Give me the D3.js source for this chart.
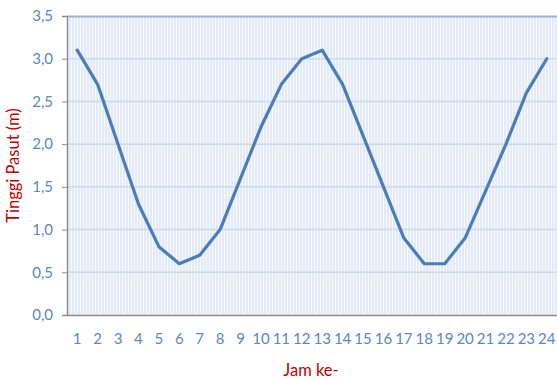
<!DOCTYPE html>
<html>
<head>
<meta charset="utf-8">
<script src="https://cdn.jsdelivr.net/npm/d3@7"></script>
<style>
  html, body { margin: 0; padding: 0; background: #fff; }
  svg { display: block; }
  text { font-family: Lato, "Open Sans", sans-serif; }
</style>
</head>
<body>
<div id="chart"></div>
<script>
// Hourly tide height (m)
const hours = d3.range(1, 25).map(String);
const tideHeight = [3.1, 2.7, 2.0, 1.3, 0.8, 0.6, 0.7, 1.0, 1.6, 2.2, 2.7, 3.0,
                    3.1, 2.7, 2.1, 1.5, 0.9, 0.6, 0.6, 0.9, 1.45, 2.0, 2.6, 3.0];
const yTicks = [0, 0.5, 1.0, 1.5, 2.0, 2.5, 3.0, 3.5];

const W = 557, H = 380;
const margin = { top: 16, right: 0, bottom: 65, left: 67 };
const iw = W - margin.left - margin.right;
const ih = H - margin.top - margin.bottom;

const svg = d3.select("#chart").append("svg")
  .attr("width", W).attr("height", H);

// striped plot-area fill
const defs = svg.append("defs");
const pat = defs.append("pattern")
  .attr("id", "stripes").attr("patternUnits", "userSpaceOnUse")
  .attr("width", 3).attr("height", 10);
pat.append("rect").attr("width", 3).attr("height", 10).attr("fill", "#e4ebf6");
pat.append("rect").attr("x", 1).attr("width", 1).attr("height", 10).attr("fill", "#f6f9fc");

const g = svg.append("g").attr("transform", `translate(${margin.left},${margin.top})`);

const x = d3.scaleBand().domain(hours).range([0, iw]);
const y = d3.scaleLinear().domain([0, 3.5]).range([ih, 0]);

g.append("rect").attr("width", iw).attr("height", ih).attr("fill", "url(#stripes)");

// horizontal gridlines
g.append("g").selectAll("line")
  .data(yTicks.slice(1, -1))
  .join("line")
  .attr("x1", 0).attr("x2", iw)
  .attr("y1", d => y(d)).attr("y2", d => y(d))
  .attr("stroke", "#c9dcf0").attr("stroke-width", 1.5);

// top border
g.append("line").attr("x1", 0).attr("x2", iw).attr("y1", 0.5).attr("y2", 0.5)
  .attr("stroke", "#95b3de").attr("stroke-width", 2);

// y axis
const yAxis = g.append("g")
  .call(d3.axisLeft(y).tickValues(yTicks).tickSize(5).tickPadding(9)
    .tickFormat(d => d3.format(".1f")(d).replace(".", ",")));
yAxis.select(".domain").attr("stroke", "#8c8c8c").attr("stroke-width", 1.5);
yAxis.selectAll(".tick line").attr("stroke", "#8c8c8c");
yAxis.selectAll(".tick text").attr("fill", "#5a87c5").attr("font-size", 15);

// x axis
const xAxis = g.append("g").attr("transform", `translate(0,${ih})`)
  .call(d3.axisBottom(x).tickSize(0).tickPadding(18));
xAxis.select(".domain").attr("stroke", "#8c8c8c").attr("stroke-width", 1.5);
xAxis.selectAll(".tick text").attr("fill", "#5a87c5").attr("font-size", 15);

// tide line
const line = d3.line()
  .x((d, i) => x(hours[i]) + x.bandwidth() / 2)
  .y(d => y(d));
g.append("path").datum(tideHeight)
  .attr("d", line)
  .attr("fill", "none")
  .attr("stroke", "#4a7ebb").attr("stroke-width", 3.2)
  .attr("stroke-linejoin", "round").attr("stroke-linecap", "round");

// axis titles
svg.append("text")
  .attr("x", margin.left + iw / 2 - 1).attr("y", 376)
  .attr("text-anchor", "middle").attr("fill", "#c00000").attr("font-size", 16.5)
  .text("Jam ke-");
svg.append("text")
  .attr("transform", `translate(19,${margin.top + ih / 2}) rotate(-90)`)
  .attr("text-anchor", "middle").attr("fill", "#c00000").attr("font-size", 16.5)
  .text("Tinggi Pasut (m)");
</script>
</body>
</html>
